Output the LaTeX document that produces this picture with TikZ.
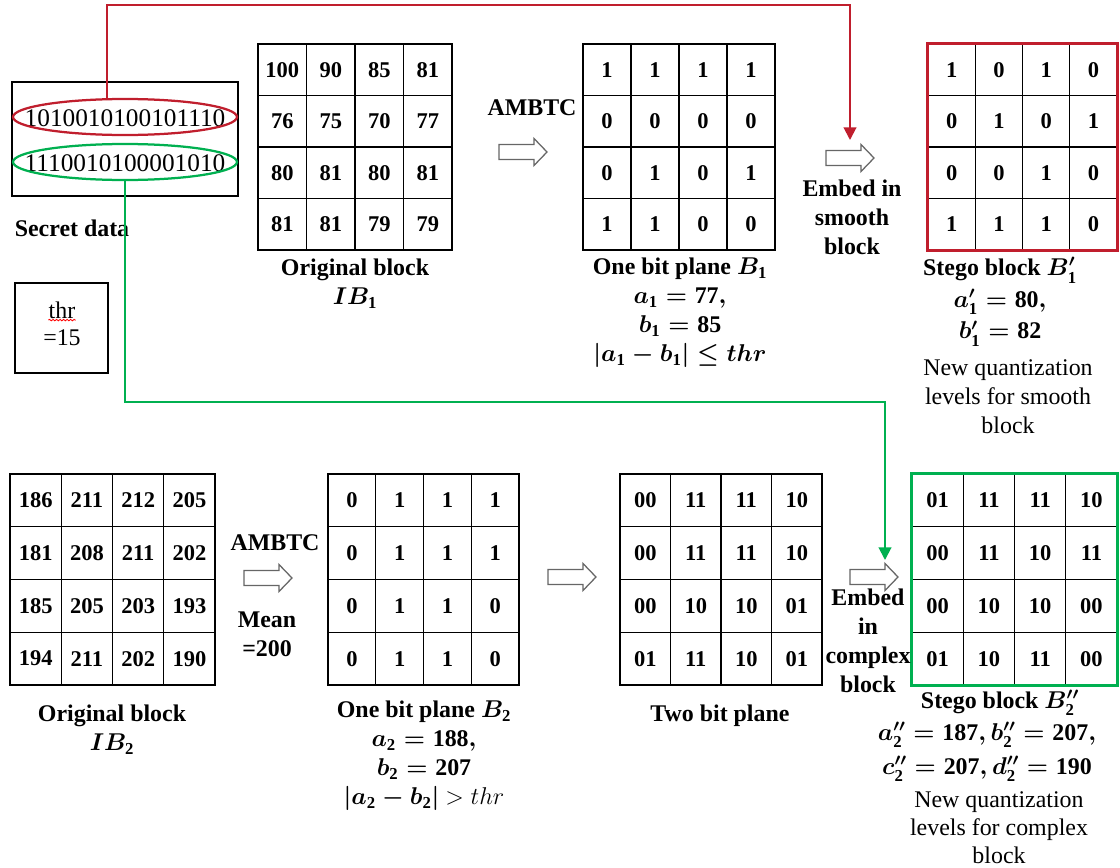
\documentclass[tikz,border=0pt]{standalone}
\usepackage{amsmath}
\usepackage{amssymb}
\usepackage{bm}
\usepackage{fontspec}
\setmainfont{Liberation Serif}
\usetikzlibrary{arrows.meta,decorations.pathmorphing}

\definecolor{secred}{RGB}{192,30,45}
\definecolor{secgreen}{RGB}{0,176,80}

% bold digits inside math
\newcommand{\bd}[1]{\textbf{#1}}

% 4x4 block: name, left, top, cell width, cell height, rows
\newcommand{\pixgrid}[6]{%
  \foreach \rowvals [count=\r] in {#6} {
    \foreach \val [count=\c] in \rowvals {
      \node[cell, minimum width=#4*0.025cm, minimum height=#5*0.025cm]
        (#1-\r-\c) at ({#2+(\c-0.5)*#4},{#3+(\r-0.5)*#5}) {\val};
    }
  }%
}

\tikzset{
  pics/hollowarr/.style={code={
    \draw[draw=black!60, fill=white, line width=0.9pt, line join=miter]
      (-24,-7.5) -- (11,-7.5) -- (11,-13.5) -- (24,0) -- (11,13.5) -- (11,7.5) -- (-24,7.5) -- cycle;
  }}
}

\begin{document}
\begin{tikzpicture}[x=0.025cm, y=-0.025cm,
    cell/.style={draw, line width=0.8pt, inner sep=0pt, font=\fontsize{16}{19}\selectfont\bfseries},
    lbl/.style={align=center, inner sep=0pt, font=\fontsize{17}{20.6}\selectfont\bfseries\boldmath},
    txt/.style={align=center, inner sep=0pt, font=\fontsize{17}{20.6}\selectfont},
    bits/.style={inner sep=0pt, font=\fontsize{18}{20}\selectfont}]
    \useasboundingbox (0,0) rectangle (1120,868);

    % Secret data and threshold
    \draw[line width=2pt] (12,82) rectangle (238,196);
    \node[bits] (sec1) at (125,118) {1010010100101110};
    \node[bits] (sec2) at (125,163) {1110010100001010};
    \draw[secred, line width=1.6pt] (125,117) ellipse [x radius=112, y radius=18];
    \draw[secgreen, line width=1.6pt] (125,162) ellipse [x radius=112, y radius=18];
    \node[lbl] (secret) at (72,228) {Secret data};
    \draw[line width=2pt] (15,283) rectangle (108,373);
    \node[txt] (thr) at (62,310) {thr};
    \node[txt] (thrval) at (62,338) {=15};
    \draw[red, line width=0.6pt, decorate, decoration={snake, amplitude=0.5pt, segment length=2.5pt}]
        ([yshift=-1pt]thr.south west) -- ([yshift=-1pt]thr.south east);

    % Smooth block row
    \pixgrid{ib1}{258}{44}{48.5}{51.5}{{100,90,85,81},{76,75,70,77},{80,81,80,81},{81,81,79,79}}
    \pixgrid{bp1}{583}{44}{48}{51.5}{{1,1,1,1},{0,0,0,0},{0,1,0,1},{1,1,0,0}}
    \pixgrid{sb1}{928}{44}{47.25}{51.5}{{1,0,1,0},{0,1,0,1},{0,0,1,0},{1,1,1,0}}
    \draw[secred, line width=1.8pt] (sb1-1-1.north west) rectangle (sb1-4-4.south east);

    \node[lbl] (ambtc1) at (532,108) {AMBTC};
    \pic (arr1) at (523,152) {hollowarr};
    \pic (arr2) at (850,158) {hollowarr};
    \node[lbl] (embed1) at (852,217) {Embed in\\smooth\\block};

    \node[lbl] (ib1lbl) at (355,284) {Original block\\$IB_{\bd{1}}$};
    \node[lbl] (bp1lbl) at (680,313) {One bit plane $B_{\bd{1}}$\\$a_{\bd{1}} = \bd{77},$\\$b_{\bd{1}} = \bd{85}$\\$|a_{\bd{1}} - b_{\bd{1}}| \leq thr$};
    \node[lbl, font=\fontsize{17}{22.5}\selectfont\bfseries\boldmath] (sb1lbl) at (1000,302) {Stego block $B_{\bd{1}}^{\prime}$\\$a_{\bd{1}}^{\prime} = \bd{80},$\\$b_{\bd{1}}^{\prime} = \bd{82}$};
    \node[txt] (sb1txt) at (1008,397) {New quantization\\levels for smooth\\block};

    % Complex block row
    \pixgrid{ib2}{10}{474}{51.25}{52.75}{{186,211,212,205},{181,208,211,202},{185,205,203,193},{194,211,202,190}}
    \pixgrid{bp2}{328}{474}{47.75}{52.75}{{0,1,1,1},{0,1,1,1},{0,1,1,0},{0,1,1,0}}
    \pixgrid{tp2}{620}{474}{50.5}{52.75}{{00,11,11,10},{00,11,11,10},{00,10,10,01},{01,11,10,01}}
    \pixgrid{sb2}{912}{474}{51.25}{52.75}{{01,11,11,10},{00,11,10,11},{00,10,10,00},{01,10,11,00}}
    \draw[secgreen, line width=1.8pt] (sb2-1-1.north west) rectangle (sb2-4-4.south east);

    \node[lbl] (ambtc2) at (275,543) {AMBTC};
    \pic (arr3) at (268,578) {hollowarr};
    \node[lbl] (mean) at (267,634) {Mean\\=200};
    \pic (arr4) at (572,577) {hollowarr};
    \pic (arr5) at (874,577) {hollowarr};
    \node[lbl] (embed2) at (868,641) {Embed\\in\\complex\\block};

    \node[lbl] (ib2lbl) at (112,730) {Original block\\$IB_{\bd{2}}$};
    \node[lbl] (bp2lbl) at (424,756) {One bit plane $B_{\bd{2}}$\\$a_{\bd{2}} = \bd{188},$\\$b_{\bd{2}} = \bd{207}$\\$|a_{\bd{2}} - b_{\bd{2}}|$ {\unboldmath$> thr$}};
    \node[lbl] (tp2lbl) at (720,716) {Two bit plane};
    \node[lbl] (sb2lbl) at (1000,703) {Stego block $B_{\bd{2}}^{\prime\prime}$};
    \node[lbl] (sb2ab) at (987,735) {$a_{\bd{2}}^{\prime\prime} = \bd{187}, b_{\bd{2}}^{\prime\prime} = \bd{207},$};
    \node[lbl] (sb2cd) at (987,769) {$c_{\bd{2}}^{\prime\prime} = \bd{207}, d_{\bd{2}}^{\prime\prime} = \bd{190}$};
    \node[txt, font=\fontsize{17}{20}\selectfont] (sb2txt) at (999,828) {New quantization\\levels for complex\\block};

    % Draw routes of the secret bits
    \coordinate (top1) at ([shift={(-18,-18)}]sec1.center);
    \coordinate (bot2) at ([shift={(0,17)}]sec2.center);
    \coordinate (tip1) at (850,140);
    \coordinate (tip2) at (885,560);
    \draw[secred, line width=1.4pt, -{Triangle[width=9pt,length=9pt]}]
        (top1) |- (850,5) -- (tip1);
    \draw[secgreen, line width=1.4pt, -{Triangle[width=9pt,length=9pt]}]
        (bot2) |- (885,402) -- (tip2);
\end{tikzpicture}
\end{document}
